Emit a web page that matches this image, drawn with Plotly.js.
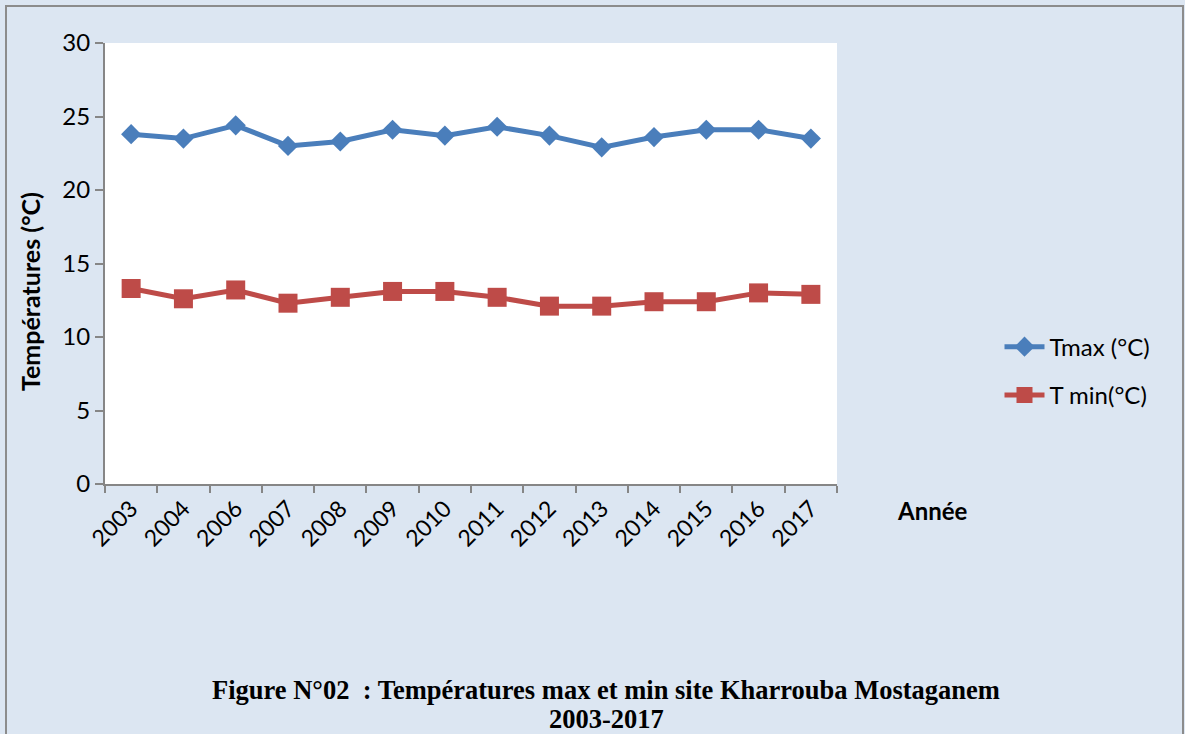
<!DOCTYPE html>
<html>
<head>
<meta charset="utf-8">
<script src="https://cdn.plot.ly/plotly-3.0.1.min.js"></script>
<style>
html,body{margin:0;padding:0;background:#DCE6F2;}
#frame{position:absolute;left:5px;top:5px;width:1179px;height:740px;border:2px solid #8c8c8c;box-sizing:border-box;pointer-events:none;z-index:5;}
#chart{position:absolute;left:0;top:0;width:1185px;height:734px;}
</style>
</head>
<body>
<div id="chart"></div>
<div id="frame"></div>
<script>
const years = ["2003","2004","2006","2007","2008","2009","2010","2011","2012","2013","2014","2015","2016","2017"];
const tmax = [23.8,23.5,24.4,23.0,23.3,24.1,23.7,24.3,23.7,22.9,23.6,24.1,24.1,23.5];
const tmin = [13.3,12.6,13.2,12.3,12.7,13.1,13.1,12.7,12.1,12.1,12.4,12.4,13.0,12.9];

const font = "Lato, 'Open Sans', sans-serif";

const traces = [
  {x: years, y: tmax, name: "Tmax (°C)", type: "scatter", mode: "lines+markers", legendgroup: "a",
   line: {color: "#4A7EBB", width: 5},
   marker: {symbol: "diamond", size: 15.5, color: "#4A7EBB"}},
  {x: years, y: tmin, name: "T min(°C)", type: "scatter", mode: "lines+markers", legendgroup: "b",
   line: {color: "#BE4B48", width: 5},
   marker: {symbol: "square", size: 19, color: "#BE4B48"}}
];

const layout = {
  width: 1185, height: 734,
  paper_bgcolor: "#DCE6F2",
  plot_bgcolor: "#FFFFFF",
  margin: {l: 105, r: 348, t: 43, b: 250},
  showlegend: true,
  font: {family: font, color: "#000", size: 24},
  xaxis: {
    type: "category",
    range: [-0.5, 13.5],
    tickson: "boundaries",
    ticks: "outside", ticklen: 7, tickcolor: "#868686", tickwidth: 2,
    showline: true, linecolor: "#868686", linewidth: 2,
    showgrid: false, zeroline: false,
    tickangle: -45,
    tickfont: {family: font, size: 23, color: "#000"},
    fixedrange: true
  },
  yaxis: {
    range: [0, 30], dtick: 5,
    ticks: "outside", ticklen: 8, tickcolor: "#868686", tickwidth: 2,
    showline: true, linecolor: "#868686", linewidth: 2,
    showgrid: false, zeroline: false,
    tickfont: {family: font, size: 24, color: "#000"},
    fixedrange: true
  },
  legend: {
    x: 1.222, y: 0.256, xanchor: "left", yanchor: "middle",
    bgcolor: "rgba(0,0,0,0)",
    font: {family: font, size: 24, color: "#000"},
    tracegroupgap: 14,
    itemwidth: 40
  },
  annotations: [
    {text: "<b>Températures (°C)</b>", xref: "paper", yref: "paper", x: -0.1025, y: 0.4376,
     xanchor: "center", yanchor: "middle", textangle: -90, showarrow: false,
     font: {family: font, size: 25, color: "#000"}},
    {text: "<b>Année</b>", xref: "paper", yref: "paper", x: 1.13, y: -0.06,
     xanchor: "center", yanchor: "middle", showarrow: false,
     font: {family: font, size: 24, color: "#000"}},
    {text: "<b>Figure N°02  : Températures max et min site Kharrouba Mostaganem</b>",
     xref: "paper", yref: "paper", x: 0.685, y: -0.468, xanchor: "center", yanchor: "middle",
     showarrow: false, font: {family: "'Liberation Serif', 'Times New Roman', serif", size: 26.5, color: "#000"}},
    {text: "<b>2003-2017</b>",
     xref: "paper", yref: "paper", x: 0.685, y: -0.534, xanchor: "center", yanchor: "middle",
     showarrow: false, font: {family: "'Liberation Serif', 'Times New Roman', serif", size: 26.5, color: "#000"}}
  ]
};

Plotly.newPlot("chart", traces, layout, {displayModeBar: false, staticPlot: true});
</script>
</body>
</html>
